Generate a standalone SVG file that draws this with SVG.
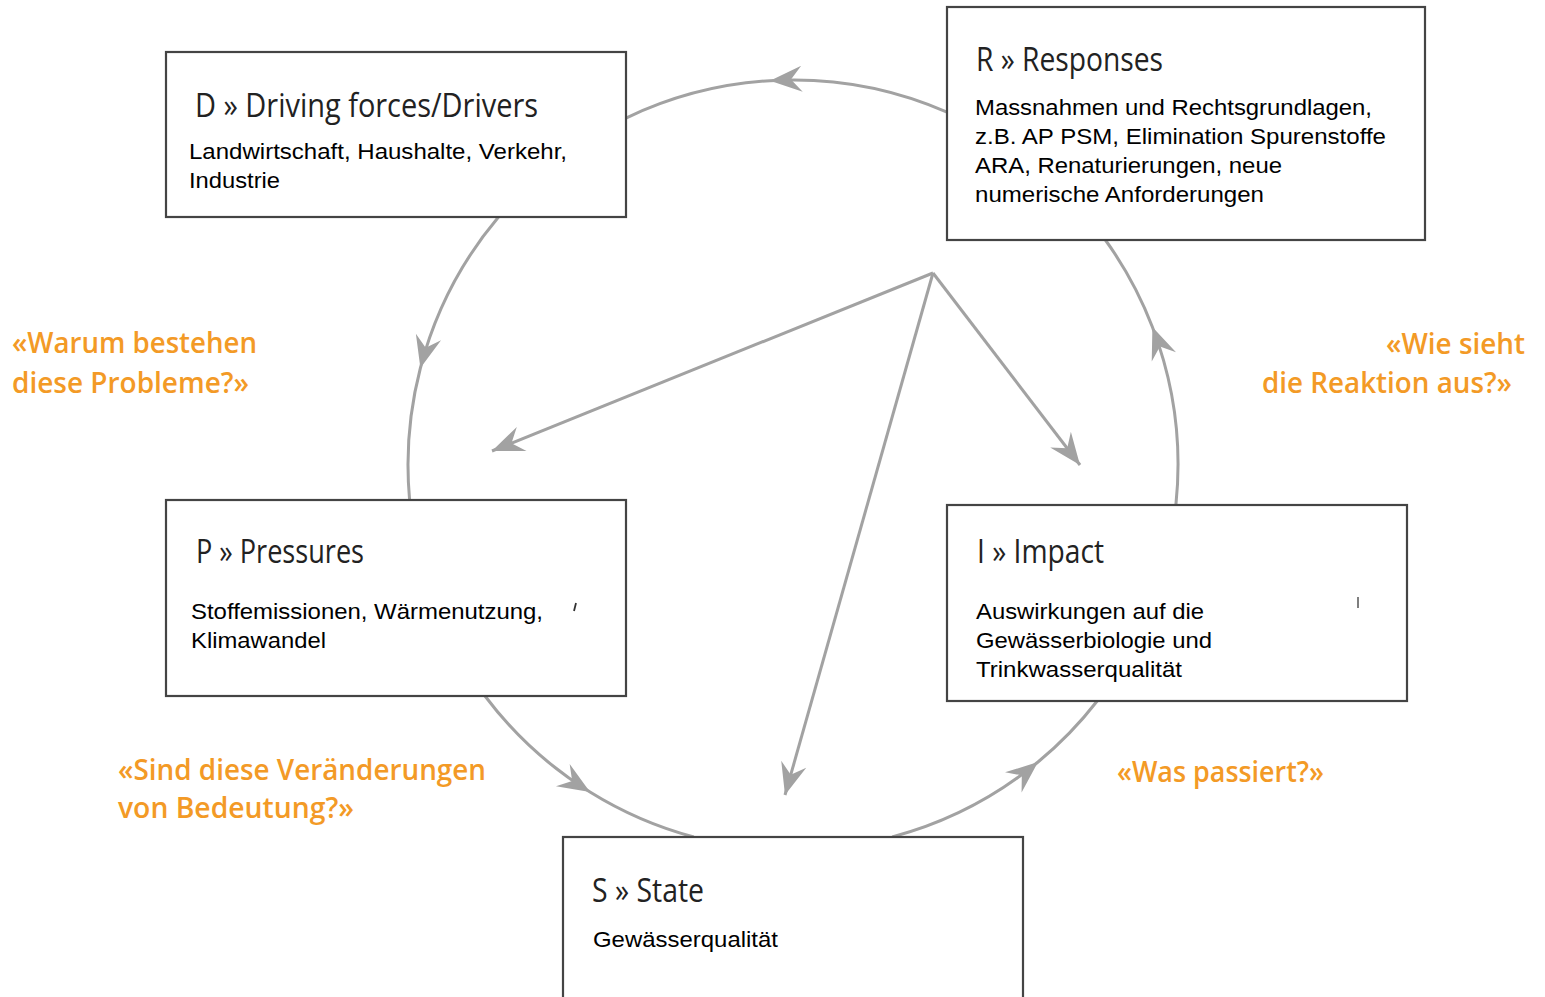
<svg xmlns="http://www.w3.org/2000/svg" width="1545" height="997" viewBox="0 0 1545 997">
<style>
.box{fill:#fff;stroke:#444;stroke-width:2.2}
.con{fill:none;stroke:#a2a2a2;stroke-width:3}
.arc{marker-mid:url(#ah)}
.ln{marker-end:url(#ah)}
.title{font-family:"Open Sans","Noto Sans",sans-serif;font-size:32px;font-weight:500;fill:#222}
.body{font-family:"Liberation Sans",Arial,sans-serif;font-size:21.5px;fill:#000}
.q{font-family:"Open Sans","Noto Sans",sans-serif;font-size:28px;font-weight:600;fill:#F39A26}
</style>
<defs>
<marker id="ah" viewBox="-34 -15 36 30" refX="0" refY="0" markerWidth="36" markerHeight="30" markerUnits="userSpaceOnUse" orient="auto">
<path d="M0,0 L-32,-13 L-21,0 L-32,13 Z" fill="#a2a2a2"/>
</marker>
</defs>
<rect width="1545" height="997" fill="#fff"/>
<g id="connectors">
<path class="con arc" d="M947,112.1 A385,385 0 0 0 770,80.7 A385,385 0 0 0 626,118.1"/>
<path class="con arc" d="M498.5,217 A385,385 0 0 0 420.4,368 A385,385 0 0 0 409.6,500"/>
<path class="con arc" d="M485,696 A385,385 0 0 0 590,792 A385,385 0 0 0 693.8,837"/>
<path class="con arc" d="M892.2,837 A385,385 0 0 0 1038,762 A385,385 0 0 0 1097.2,701"/>
<path class="con arc" d="M1175.9,505 A385,385 0 0 0 1152.4,327 A385,385 0 0 0 1105.4,240"/>
<path class="con ln" d="M933,273 L492,451"/>
<path class="con ln" d="M933,273 L1080,465"/>
<path class="con ln" d="M933,273 L785,795"/>
</g>
<g id="node-D">
<rect class="box" x="166" y="52" width="460" height="165"/>
<text class="title" x="195" y="117" textLength="343" lengthAdjust="spacingAndGlyphs">D » Driving forces/Drivers</text>
<text class="body" x="189" y="159" textLength="378" lengthAdjust="spacingAndGlyphs">Landwirtschaft, Haushalte, Verkehr,</text>
<text class="body" x="189" y="188" textLength="91" lengthAdjust="spacingAndGlyphs">Industrie</text>
</g>
<g id="node-R">
<rect class="box" x="947" y="7" width="478" height="233"/>
<text class="title" x="976" y="71" textLength="187" lengthAdjust="spacingAndGlyphs">R » Responses</text>
<text class="body" x="975" y="115" textLength="397" lengthAdjust="spacingAndGlyphs">Massnahmen und Rechtsgrundlagen,</text>
<text class="body" x="975" y="144" textLength="411" lengthAdjust="spacingAndGlyphs">z.B. AP PSM, Elimination Spurenstoffe</text>
<text class="body" x="975" y="173" textLength="307" lengthAdjust="spacingAndGlyphs">ARA, Renaturierungen, neue</text>
<text class="body" x="975" y="202" textLength="289" lengthAdjust="spacingAndGlyphs">numerische Anforderungen</text>
</g>
<g id="node-P">
<rect class="box" x="166" y="500" width="460" height="196"/>
<text class="title" x="196" y="563" textLength="168" lengthAdjust="spacingAndGlyphs">P » Pressures</text>
<text class="body" x="191" y="619" textLength="352" lengthAdjust="spacingAndGlyphs">Stoffemissionen, Wärmenutzung,</text>
<text class="body" x="191" y="648" textLength="135" lengthAdjust="spacingAndGlyphs">Klimawandel</text>
<path d="M576,603 L574,611" stroke="#333" stroke-width="1.8" fill="none"/>
</g>
<g id="node-I">
<rect class="box" x="947" y="505" width="460" height="196"/>
<text class="title" x="977" y="563" textLength="127" lengthAdjust="spacingAndGlyphs">I » Impact</text>
<text class="body" x="976" y="619" textLength="228" lengthAdjust="spacingAndGlyphs">Auswirkungen auf die</text>
<text class="body" x="976" y="648" textLength="236" lengthAdjust="spacingAndGlyphs">Gewässerbiologie und</text>
<text class="body" x="976" y="677" textLength="206" lengthAdjust="spacingAndGlyphs">Trinkwasserqualität</text>
<path d="M1358,597 L1358,608" stroke="#555" stroke-width="1.5" fill="none"/>
</g>
<g id="node-S">
<rect class="box" x="563" y="837" width="460" height="180"/>
<text class="title" x="592" y="902" textLength="112" lengthAdjust="spacingAndGlyphs">S » State</text>
<text class="body" x="593" y="947" textLength="185" lengthAdjust="spacingAndGlyphs">Gewässerqualität</text>
</g>
<g id="questions">
<text class="q" x="12" y="353" textLength="245" lengthAdjust="spacingAndGlyphs">«Warum bestehen</text>
<text class="q" x="12" y="393" textLength="237" lengthAdjust="spacingAndGlyphs">diese Probleme?»</text>
<text class="q" x="1386" y="354" textLength="139" lengthAdjust="spacingAndGlyphs">«Wie sieht</text>
<text class="q" x="1262" y="393" textLength="250" lengthAdjust="spacingAndGlyphs">die Reaktion aus?»</text>
<text class="q" x="118" y="780" textLength="368" lengthAdjust="spacingAndGlyphs">«Sind diese Veränderungen</text>
<text class="q" x="118" y="818" textLength="236" lengthAdjust="spacingAndGlyphs">von Bedeutung?»</text>
<text class="q" x="1117" y="782" textLength="207" lengthAdjust="spacingAndGlyphs">«Was passiert?»</text>
</g>
</svg>
